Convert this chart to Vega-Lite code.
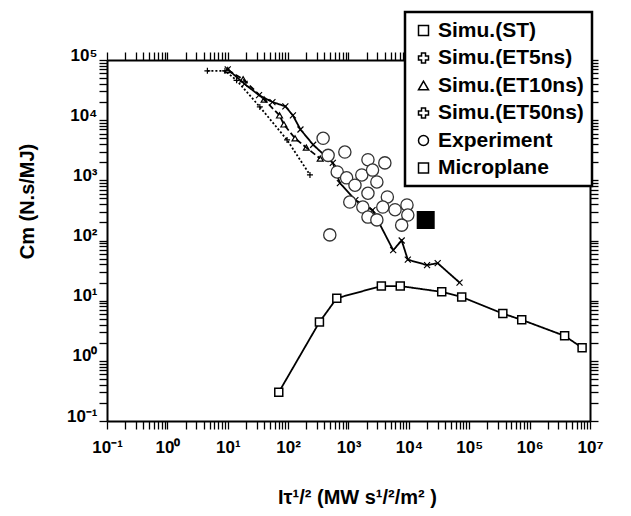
{
  "$schema": "https://vega.github.io/schema/vega-lite/v6.json",
  "width": 483,
  "height": 361,
  "autosize": {"type": "none"},
  "padding": {"left": 107, "top": 60, "right": 41, "bottom": 95},
  "background": "white",
  "config": {
    "view": {"stroke": null},
    "legend": {"strokeWidth": 2.5},
    "axis": {
      "grid": false,
      "domainColor": "black",
      "domainWidth": 2,
      "tickColor": "black",
      "tickWidth": 1.3,
      "tickSize": 8,
      "labelFont": "Liberation Sans",
      "labelFontWeight": "bold",
      "labelFontSize": 17,
      "labelColor": "black",
      "titleFont": "Liberation Sans",
      "titleFontWeight": "bold",
      "titleFontSize": 20,
      "titleColor": "black"
    }
  },
  "resolve": {"axis": {"x": "independent", "y": "independent"}},
  "data": {
    "values": [
      {"s": "Simu.(ST)", "x": 70, "y": 0.3},
      {"s": "Simu.(ST)", "x": 330, "y": 4.4},
      {"s": "Simu.(ST)", "x": 640, "y": 11},
      {"s": "Simu.(ST)", "x": 3500, "y": 17.5},
      {"s": "Simu.(ST)", "x": 7200, "y": 17.5},
      {"s": "Simu.(ST)", "x": 35000, "y": 14},
      {"s": "Simu.(ST)", "x": 75000, "y": 11.5},
      {"s": "Simu.(ST)", "x": 360000, "y": 6.1},
      {"s": "Simu.(ST)", "x": 740000, "y": 4.8},
      {"s": "Simu.(ST)", "x": 3800000, "y": 2.6},
      {"s": "Simu.(ST)", "x": 7400000, "y": 1.65},

      {"s": "Simu.(ET5ns)", "x": 10, "y": 70000},
      {"s": "Simu.(ET5ns)", "x": 19, "y": 40000},
      {"s": "Simu.(ET5ns)", "x": 33, "y": 26000},
      {"s": "Simu.(ET5ns)", "x": 55, "y": 20000},
      {"s": "Simu.(ET5ns)", "x": 90, "y": 17000},
      {"s": "Simu.(ET5ns)", "x": 120, "y": 12000},
      {"s": "Simu.(ET5ns)", "x": 160, "y": 7000},
      {"s": "Simu.(ET5ns)", "x": 260, "y": 3900},
      {"s": "Simu.(ET5ns)", "x": 550, "y": 1950},
      {"s": "Simu.(ET5ns)", "x": 720, "y": 900},
      {"s": "Simu.(ET5ns)", "x": 1300, "y": 470},
      {"s": "Simu.(ET5ns)", "x": 2500, "y": 320},
      {"s": "Simu.(ET5ns)", "x": 5500, "y": 69},
      {"s": "Simu.(ET5ns)", "x": 7600, "y": 100},
      {"s": "Simu.(ET5ns)", "x": 9600, "y": 48},
      {"s": "Simu.(ET5ns)", "x": 20000, "y": 39},
      {"s": "Simu.(ET5ns)", "x": 30000, "y": 42},
      {"s": "Simu.(ET5ns)", "x": 69000, "y": 20},

      {"s": "Simu.(ET10ns)", "x": 10, "y": 68000},
      {"s": "Simu.(ET10ns)", "x": 18, "y": 48000},
      {"s": "Simu.(ET10ns)", "x": 40, "y": 22000},
      {"s": "Simu.(ET10ns)", "x": 72, "y": 12000},
      {"s": "Simu.(ET10ns)", "x": 85, "y": 8500},
      {"s": "Simu.(ET10ns)", "x": 130, "y": 5000},
      {"s": "Simu.(ET10ns)", "x": 200, "y": 3500},
      {"s": "Simu.(ET10ns)", "x": 340, "y": 2300},

      {"s": "Simu.(ET50ns)", "x": 4.6, "y": 66000},
      {"s": "Simu.(ET50ns)", "x": 9, "y": 66000},
      {"s": "Simu.(ET50ns)", "x": 14, "y": 46000},
      {"s": "Simu.(ET50ns)", "x": 34, "y": 16600},
      {"s": "Simu.(ET50ns)", "x": 96, "y": 4700},
      {"s": "Simu.(ET50ns)", "x": 230, "y": 1230},

      {"s": "Experiment", "x": 380, "y": 5000},
      {"s": "Experiment", "x": 460, "y": 2600},
      {"s": "Experiment", "x": 870, "y": 2950},
      {"s": "Experiment", "x": 650, "y": 1380},
      {"s": "Experiment", "x": 2100, "y": 2200},
      {"s": "Experiment", "x": 4000, "y": 1950},
      {"s": "Experiment", "x": 1660, "y": 1230},
      {"s": "Experiment", "x": 2500, "y": 1480},
      {"s": "Experiment", "x": 930, "y": 1100},
      {"s": "Experiment", "x": 1280, "y": 830},
      {"s": "Experiment", "x": 2950, "y": 940},
      {"s": "Experiment", "x": 2100, "y": 610},
      {"s": "Experiment", "x": 4400, "y": 530},
      {"s": "Experiment", "x": 1050, "y": 435},
      {"s": "Experiment", "x": 1730, "y": 360},
      {"s": "Experiment", "x": 3700, "y": 360},
      {"s": "Experiment", "x": 5900, "y": 325},
      {"s": "Experiment", "x": 9300, "y": 390},
      {"s": "Experiment", "x": 9600, "y": 265},
      {"s": "Experiment", "x": 2100, "y": 245},
      {"s": "Experiment", "x": 2950, "y": 220},
      {"s": "Experiment", "x": 7600, "y": 180},
      {"s": "Experiment", "x": 490, "y": 124},

      {"s": "Microplane", "x": 19000, "y": 220}
    ]
  },
  "layer": [
    {
      "transform": [{"filter": {"field": "s", "oneOf": ["Simu.(ST)", "Simu.(ET5ns)", "Simu.(ET10ns)", "Simu.(ET50ns)"]}}],
      "mark": {"type": "line", "color": "black", "strokeWidth": 1.8},
      "encoding": {
        "x": {
          "field": "x", "type": "quantitative",
          "scale": {"type": "log", "domain": [0.1, 10000000]},
          "axis": {
            "orient": "bottom",
            "values": [0.1,0.2,0.3,0.4,0.5,0.6,0.7,0.8,0.9,1,2,3,4,5,6,7,8,9,10,20,30,40,50,60,70,80,90,100,200,300,400,500,600,700,800,900,1000,2000,3000,4000,5000,6000,7000,8000,9000,10000,20000,30000,40000,50000,60000,70000,80000,90000,100000,200000,300000,400000,500000,600000,700000,800000,900000,1000000,2000000,3000000,4000000,5000000,6000000,7000000,8000000,9000000,10000000],
            "encode": {"ticks": {"y2": {"value": {"expr": "abs(log(datum.value)/LN10 - round(log(datum.value)/LN10)) < 0.01 ? -8 : -4"}}}},
            "labelExpr": "abs(log(datum.value)/LN10 - round(log(datum.value)/LN10)) < 0.01 ? '10' + replace(replace(replace(replace(replace(replace(replace(replace(replace('' + round(log(datum.value)/LN10), '-', '⁻'), '0', '⁰'), '1', '¹'), '2', '²'), '3', '³'), '4', '⁴'), '5', '⁵'), '6', '⁶'), '7', '⁷') : ''",
            "labelOverlap": false,
            "labelFlush": false,
            "labelPadding": 10,
            "title": "Iτ¹/²  (MW s¹/²/m² )",
            "titleX": 250,
            "titleY": 76,
            "titleAlign": "center",
            "titleBaseline": "middle"
          }
        },
        "y": {
          "field": "y", "type": "quantitative",
          "scale": {"type": "log", "domain": [0.1, 100000]},
          "axis": {
            "orient": "left",
            "values": [0.1,0.2,0.3,0.4,0.5,0.6,0.7,0.8,0.9,1,2,3,4,5,6,7,8,9,10,20,30,40,50,60,70,80,90,100,200,300,400,500,600,700,800,900,1000,2000,3000,4000,5000,6000,7000,8000,9000,10000,20000,30000,40000,50000,60000,70000,80000,90000,100000],
            "encode": {"ticks": {"x2": {"value": {"expr": "abs(log(datum.value)/LN10 - round(log(datum.value)/LN10)) < 0.01 ? 8 : 4"}}}},
            "labelExpr": "abs(log(datum.value)/LN10 - round(log(datum.value)/LN10)) < 0.01 ? '10' + replace(replace(replace(replace(replace(replace(replace(replace(replace('' + round(log(datum.value)/LN10), '-', '⁻'), '0', '⁰'), '1', '¹'), '2', '²'), '3', '³'), '4', '⁴'), '5', '⁵'), '6', '⁶'), '7', '⁷') : ''",
            "labelOverlap": false,
            "labelFlush": false,
            "labelPadding": 2,
            "labelBaseline": "alphabetic",
            "title": "Cm  (N.s/MJ)",
            "titleX": -80,
            "titleY": 141,
            "titleAlign": "center",
            "titleBaseline": "middle"
          }
        },
        "strokeDash": {
          "field": "s", "type": "nominal",
          "scale": {
            "domain": ["Simu.(ST)", "Simu.(ET5ns)", "Simu.(ET10ns)", "Simu.(ET50ns)"],
            "range": [[1, 0], [1, 0], [6, 3], [2, 2]]
          },
          "legend": null
        }
      }
    },
    {
      "transform": [{"filter": {"field": "s", "equal": "Simu.(ST)"}}],
      "mark": {"type": "point", "filled": true, "fill": "white", "stroke": "black", "strokeWidth": 1.5, "size": 64, "opacity": 1},
      "encoding": {
        "x": {
          "field": "x", "type": "quantitative",
          "axis": {
            "orient": "top",
            "values": [0.1,0.2,0.3,0.4,0.5,0.6,0.7,0.8,0.9,1,2,3,4,5,6,7,8,9,10,20,30,40,50,60,70,80,90,100,200,300,400,500,600,700,800,900,1000,2000,3000,4000,5000,6000,7000,8000,9000,10000,20000,30000,40000,50000,60000,70000,80000,90000,100000,200000,300000,400000,500000,600000,700000,800000,900000,1000000,2000000,3000000,4000000,5000000,6000000,7000000,8000000,9000000,10000000],
            "encode": {"ticks": {"y2": {"value": {"expr": "abs(log(datum.value)/LN10 - round(log(datum.value)/LN10)) < 0.01 ? 8 : 4"}}}},
            "labels": false,
            "title": null
          }
        },
        "y": {
          "field": "y", "type": "quantitative",
          "axis": {
            "orient": "right",
            "values": [0.1,0.2,0.3,0.4,0.5,0.6,0.7,0.8,0.9,1,2,3,4,5,6,7,8,9,10,20,30,40,50,60,70,80,90,100,200,300,400,500,600,700,800,900,1000,2000,3000,4000,5000,6000,7000,8000,9000,10000,20000,30000,40000,50000,60000,70000,80000,90000,100000],
            "encode": {"ticks": {"x2": {"value": {"expr": "abs(log(datum.value)/LN10 - round(log(datum.value)/LN10)) < 0.01 ? -8 : -4"}}}},
            "labels": false,
            "title": null
          }
        },
        "shape": {
          "field": "s", "type": "nominal",
          "scale": {
            "domain": ["Simu.(ST)", "Simu.(ET5ns)", "Simu.(ET10ns)", "Simu.(ET50ns)", "Experiment", "Microplane"],
            "range": ["square", "cross", "triangle-up", "cross", "circle", "square"]
          },
          "legend": {
            "title": null,
            "orient": "none",
            "legendX": 298,
            "legendY": -48,
            "strokeColor": "black",
            "fillColor": "white",
            "padding": 8,
            "rowPadding": 5.5,
            "labelFont": "Liberation Sans",
            "labelFontSize": 21,
            "labelFontWeight": "bold",
            "labelColor": "black",
            "labelLimit": 400
          }
        }
      }
    },
    {
      "transform": [{"filter": {"field": "s", "equal": "Simu.(ET5ns)"}}],
      "mark": {"type": "point", "shape": "M-1,-1L1,1M-1,1L1,-1", "filled": false, "stroke": "black", "strokeWidth": 1.2, "size": 36, "opacity": 1},
      "encoding": {
        "x": {"field": "x", "type": "quantitative", "axis": null},
        "y": {"field": "y", "type": "quantitative", "axis": null}
      }
    },
    {
      "transform": [{"filter": {"field": "s", "equal": "Simu.(ET10ns)"}}],
      "mark": {"type": "point", "shape": "triangle-up", "filled": false, "stroke": "black", "strokeWidth": 1.2, "size": 36, "opacity": 1},
      "encoding": {
        "x": {"field": "x", "type": "quantitative", "axis": null},
        "y": {"field": "y", "type": "quantitative", "axis": null}
      }
    },
    {
      "transform": [{"filter": {"field": "s", "equal": "Simu.(ET50ns)"}}],
      "mark": {"type": "point", "shape": "M-1,0H1M0,-1V1", "filled": false, "stroke": "black", "strokeWidth": 1.2, "size": 36, "opacity": 1},
      "encoding": {
        "x": {"field": "x", "type": "quantitative", "axis": null},
        "y": {"field": "y", "type": "quantitative", "axis": null}
      }
    },
    {
      "transform": [{"filter": {"field": "s", "equal": "Experiment"}}],
      "mark": {"type": "point", "shape": "circle", "filled": true, "fill": "white", "stroke": "#333333", "strokeWidth": 1.3, "size": 150, "opacity": 1},
      "encoding": {
        "x": {"field": "x", "type": "quantitative", "axis": null},
        "y": {"field": "y", "type": "quantitative", "axis": null}
      }
    },
    {
      "transform": [{"filter": {"field": "s", "equal": "Microplane"}}],
      "mark": {"type": "point", "shape": "square", "filled": true, "fill": "black", "stroke": "black", "size": 256, "opacity": 1},
      "encoding": {
        "x": {"field": "x", "type": "quantitative", "axis": null},
        "y": {"field": "y", "type": "quantitative", "axis": null}
      }
    }
  ]
}
